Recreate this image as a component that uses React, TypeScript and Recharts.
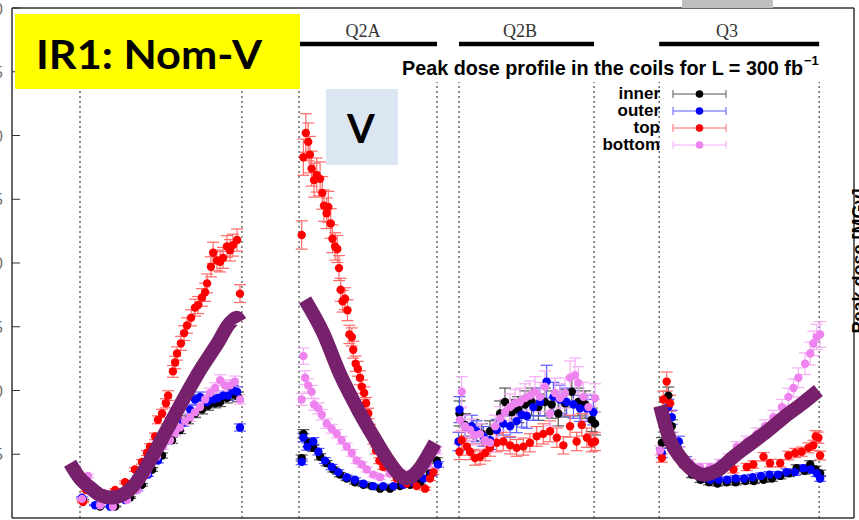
import React from "react";
import {
  ComposedChart,
  Scatter,
  Line,
  XAxis,
  YAxis,
  ErrorBar,
  ReferenceLine,
  Legend,
} from "recharts";

type Pt = [number, number];

// position along the line [m] and peak dose [MGy]
const xTicks = [20, 25, 30, 35, 40, 45, 50];
const yTicks = [0, 5, 10, 15, 20, 25, 30, 35, 40];

const magnetNames = ["Q1", "Q2A", "Q2B", "Q3"];
const magnetStart = [22.81, 31.86, 38.47, 46.74];
const magnetEnd = [29.5, 37.56, 44.05, 53.35];
const magnetRelErr = [0.04, 0.05, 0.12, 0.07];

const seriesNames = ["inner", "outer", "top", "bottom"];
const seriesColors = ["#000000", "#0000ff", "#ff0000", "#ee82ee"];
const barColors = ["#555555", "#5a5aff", "#ff6a6a", "#f4aef4"];

// Q1
const q1Inner: Pt[] = [
  [22.93, 1.4], [23.64, 0.9], [24.26, 0.9], [24.88, 1.6], [25.37, 2.6], [25.79, 3.8],
  [26.2, 4.9], [26.61, 6.1], [26.94, 6.9], [27.27, 7.7], [27.56, 8.2], [27.85, 8.5],
  [28.1, 8.8], [28.39, 9.0], [28.6, 9.1], [28.88, 9.4], [29.13, 9.7], [29.34, 9.5],
];
const q1Outer: Pt[] = [
  [22.89, 1.6], [23.43, 1.0], [24.05, 0.9], [24.67, 1.4], [25.17, 2.2], [25.62, 3.4],
  [26.03, 4.5], [26.45, 6.1], [26.74, 6.9], [27.07, 7.5], [27.36, 8.5], [27.56, 9.3],
  [27.77, 9.5], [28.06, 9.1], [28.31, 9.3], [28.51, 9.4], [28.72, 9.6], [28.93, 9.6],
  [29.13, 10.0], [29.3, 9.9], [29.42, 7.1],
];
const q1Top: Pt[] = [
  [22.93, 1.25], [23.06, 2.2], [23.43, 1.9], [23.84, 1.9], [24.26, 2.2], [24.67, 2.8],
  [25.08, 3.8], [25.37, 4.4], [25.58, 5.1], [25.7, 5.6], [25.91, 6.4], [26.03, 7.7],
  [26.2, 8.2], [26.36, 9.0], [26.45, 9.6], [26.65, 11.5], [26.74, 12.2], [26.82, 12.9],
  [26.98, 13.7], [27.11, 14.5], [27.23, 15.1], [27.4, 15.7], [27.56, 16.5], [27.69, 16.7],
  [27.85, 17.3], [27.98, 17.7], [28.06, 18.4], [28.22, 19.7], [28.31, 20.8], [28.47, 20.2],
  [28.6, 20.1], [28.72, 20.4], [28.88, 21.3], [29.01, 21.0], [29.13, 21.4], [29.3, 21.8],
  [29.42, 17.6],
];
const q1Bottom: Pt[] = [
  [22.89, 1.5], [23.14, 3.3], [23.64, 1.0], [24.17, 0.9], [24.75, 1.4], [25.17, 2.2],
  [25.58, 3.5], [25.99, 4.8], [26.24, 5.6], [26.53, 6.1], [26.74, 6.7], [26.94, 7.1],
  [27.15, 7.6], [27.36, 7.9], [27.56, 8.3], [27.77, 8.7], [27.98, 9.3], [28.18, 9.8],
  [28.39, 10.2], [28.6, 10.8], [28.8, 10.4], [29.01, 10.4], [29.21, 10.7], [29.42, 9.3],
];

// Q2A
const q2aInner: Pt[] = [
  [31.97, 4.7], [32.04, 6.6], [32.24, 5.9], [32.45, 5.5], [32.73, 4.8], [33.0, 4.3],
  [33.28, 3.8], [33.55, 3.4], [33.83, 3.1], [34.17, 2.8], [34.52, 2.6], [34.86, 2.5],
  [35.21, 2.3], [35.62, 2.3], [36.03, 2.5], [36.45, 2.6], [36.86, 2.8], [37.27, 3.5],
  [37.55, 4.5],
];
const q2aOuter: Pt[] = [
  [31.97, 4.4], [32.04, 6.3], [32.2, 5.6], [32.45, 6.0], [32.66, 5.2], [32.93, 4.5],
  [33.21, 4.0], [33.48, 3.6], [33.83, 3.2], [34.17, 3.0], [34.52, 2.7], [34.93, 2.5],
  [35.34, 2.5], [35.76, 2.5], [36.17, 2.6], [36.58, 2.8], [37.0, 3.1], [37.34, 3.5],
  [37.6, 4.2],
];
const q2aTop: Pt[] = [
  [31.97, 22.2], [32.04, 28.3], [32.14, 30.2], [32.24, 29.5], [32.31, 28.5], [32.38, 27.4],
  [32.48, 26.5], [32.59, 26.9], [32.73, 26.6], [32.82, 25.5], [32.89, 24.5], [33.0, 23.9],
  [33.07, 24.4], [33.17, 23.1], [33.24, 21.9], [33.35, 21.3], [33.44, 21.1], [33.51, 19.6],
  [33.58, 17.9], [33.66, 17.0], [33.76, 17.2], [33.86, 16.3], [33.94, 14.4], [34.04, 14.2],
  [34.1, 13.2], [34.2, 12.1], [34.29, 11.7], [34.38, 11.0], [34.45, 10.3], [34.55, 9.8],
  [34.63, 9.0], [34.72, 8.2], [34.79, 7.0], [34.93, 6.1], [35.04, 5.3], [35.18, 4.5],
  [35.34, 4.0], [35.62, 3.5], [35.9, 3.1], [36.31, 2.7], [36.72, 2.5], [37.07, 2.3],
  [37.27, 3.1], [37.41, 3.6],
];
const q2aBottom: Pt[] = [
  [31.97, 9.3], [32.04, 12.7], [32.11, 11.0], [32.24, 10.4], [32.38, 9.9], [32.48, 8.9],
  [32.66, 8.6], [32.8, 8.1], [33.0, 7.4], [33.21, 7.0], [33.42, 6.6], [33.62, 6.1],
  [33.83, 5.6], [34.04, 5.1], [34.24, 4.5], [34.45, 4.2], [34.66, 3.8], [34.93, 3.4],
  [35.21, 3.2], [35.62, 3.5], [36.03, 3.6], [36.45, 3.5], [36.86, 3.8], [37.2, 4.2],
  [37.55, 5.3],
];

// Q2B
const q2bInner: Pt[] = [
  [38.49, 8.2], [38.72, 7.3], [39.06, 6.9], [39.41, 6.6], [39.75, 6.8], [40.17, 8.2],
  [40.37, 9.1], [40.65, 8.3], [40.92, 8.5], [41.2, 8.9], [41.47, 9.1], [41.75, 8.7],
  [42.02, 9.1], [42.3, 8.9], [42.57, 8.2], [42.85, 9.0], [43.13, 9.9], [43.4, 9.1],
  [43.68, 8.9], [43.95, 7.7], [44.09, 7.4],
];
const q2bOuter: Pt[] = [
  [38.45, 6.0], [38.49, 8.5], [38.72, 7.2], [39.0, 7.2], [39.2, 6.8], [39.48, 6.4],
  [39.75, 6.1], [40.03, 6.9], [40.3, 7.4], [40.58, 7.2], [40.85, 7.6], [41.06, 8.1],
  [41.27, 8.0], [41.54, 8.7], [41.82, 9.1], [42.09, 10.7], [42.37, 9.5], [42.64, 9.3],
  [42.92, 9.1], [43.2, 8.9], [43.47, 8.6], [43.75, 8.6], [44.02, 8.3],
];
const q2bTop: Pt[] = [
  [38.49, 5.2], [38.58, 6.1], [38.79, 5.6], [38.93, 5.2], [39.13, 4.7], [39.34, 4.8],
  [39.55, 5.1], [39.75, 5.5], [40.03, 5.9], [40.3, 6.0], [40.58, 5.7], [40.85, 5.5],
  [41.13, 5.6], [41.4, 5.9], [41.68, 6.4], [41.95, 6.6], [42.23, 6.8], [42.51, 6.3],
  [42.78, 5.7], [43.06, 7.2], [43.33, 6.0], [43.54, 7.3], [43.75, 6.3], [43.95, 5.9],
  [44.09, 6.0],
];
const q2bBottom: Pt[] = [
  [38.51, 7.7], [38.58, 9.9], [38.72, 7.2], [38.93, 6.9], [39.13, 6.5], [39.34, 6.6],
  [39.55, 6.1], [39.75, 5.9], [39.96, 7.2], [40.17, 7.8], [40.37, 8.3], [40.58, 8.7],
  [40.79, 9.0], [40.99, 9.1], [41.2, 9.4], [41.4, 9.6], [41.61, 9.9], [41.82, 9.5],
  [42.02, 10.3], [42.23, 8.2], [42.44, 9.8], [42.64, 9.4], [42.85, 9.8], [43.06, 11.0],
  [43.26, 11.2], [43.4, 10.6], [43.61, 9.5], [43.82, 8.7], [44.09, 9.4],
];

// Q3
const q3Inner: Pt[] = [
  [46.85, 5.9], [47.12, 9.6], [47.26, 7.2], [47.5, 5.5], [47.8, 4.3], [48.1, 3.4],
  [48.45, 3.0], [48.8, 2.8], [49.15, 2.7], [49.53, 2.8], [49.9, 2.8], [50.3, 2.9],
  [50.65, 2.9], [51.05, 3.0], [51.4, 3.1], [51.75, 3.3], [52.1, 3.5], [52.42, 3.9],
  [52.75, 3.7], [52.98, 4.2], [53.2, 3.8], [53.39, 3.5],
];
const q3Outer: Pt[] = [
  [46.85, 5.1], [47.12, 8.7], [47.26, 7.9], [47.55, 6.0], [47.85, 4.5], [48.16, 3.5],
  [48.5, 3.2], [48.85, 3.0], [49.2, 3.0], [49.55, 3.0], [49.9, 3.1], [50.25, 3.1],
  [50.6, 3.2], [50.95, 3.3], [51.3, 3.4], [51.65, 3.4], [52.0, 3.6], [52.35, 3.6],
  [52.7, 3.9], [53.0, 3.8], [53.25, 3.5], [53.39, 3.1],
];
const q3Top: Pt[] = [
  [46.85, 4.7], [46.91, 9.3], [47.05, 10.7], [47.19, 9.0], [47.74, 4.5], [48.43, 3.6],
  [49.12, 3.6], [49.81, 3.8], [50.36, 4.0], [50.63, 4.2], [51.05, 4.8], [51.32, 4.3],
  [51.74, 4.3], [52.08, 4.9], [52.36, 5.1], [52.63, 5.2], [52.91, 5.5], [53.11, 5.7],
  [53.21, 6.4], [53.32, 6.3], [53.39, 4.9],
];
const q3Bottom: Pt[] = [
  [46.78, 5.3], [47.31, 6.3], [47.6, 5.2], [48.02, 4.3], [48.43, 4.0], [48.84, 4.0],
  [49.26, 4.3], [49.6, 4.7], [49.95, 5.6], [50.36, 6.0], [50.77, 6.6], [51.12, 7.2],
  [51.46, 7.9], [51.81, 8.7], [52.08, 9.5], [52.29, 10.2], [52.49, 11.0], [52.77, 12.1],
  [52.98, 12.9], [53.11, 13.7], [53.25, 14.2], [53.39, 14.4],
];

// hand-drawn trend curves
const q1Curve: Pt[] = [
  [22.4, 4.3], [22.81, 3.1], [23.22, 2.4], [23.64, 1.8], [24.12, 1.6], [24.55, 1.8],
  [25.01, 2.5], [25.7, 4.5], [26.39, 6.9], [27.08, 9.3], [27.77, 11.6], [28.46, 13.6],
  [29.01, 15.3], [29.29, 15.7], [29.42, 15.4],
];
const q2aCurve: Pt[] = [
  [32.11, 17.1], [32.86, 14.5], [33.55, 11.3], [34.24, 8.7], [34.93, 6.4], [35.62, 4.3],
  [35.95, 3.5], [36.24, 3.1], [36.55, 3.3], [36.85, 3.9], [37.15, 4.8], [37.48, 5.9],
];
const q3Curve: Pt[] = [
  [46.78, 8.8], [47.19, 6.1], [47.6, 4.8], [48.02, 3.9], [48.6, 3.4], [49.2, 3.8],
  [49.81, 4.8], [50.5, 5.8], [51.2, 6.8], [51.9, 7.9], [52.6, 8.9], [53.32, 10.0],
];

const withErr = (groups: Pt[][]) =>
  groups.flatMap((g, m) =>
    g.map(([x, y]) => ({ x, y, e: +(y * magnetRelErr[m]).toFixed(2) }))
  );
const toRows = (pts: Pt[]) => pts.map(([x, y]) => ({ x, y }));

const seriesData = [
  withErr([q1Inner, q2aInner, q2bInner, q3Inner]),
  withErr([q1Outer, q2aOuter, q2bOuter, q3Outer]),
  withErr([q1Top, q2aTop, q2bTop, q3Top]),
  withErr([q1Bottom, q2aBottom, q2bBottom, q3Bottom]),
];
const curves = [q1Curve, q2aCurve, q3Curve];

const X_DOMAIN: [number, number] = [20, 54.79];
const DOTTED_TOP = 34.2;
const BAR_Y = 37.18;
const frame = { stroke: "#333", strokeWidth: 1.5 };
const SANS = "'Liberation Sans', Arial, sans-serif";
const SERIF = "'Liberation Serif', 'Times New Roman', serif";

const renderLegend = () => (
  <svg width={200} height={75}>
    {seriesNames.map((name, i) => {
      const base = 15 + i * 17;
      const cy = base - 5;
      return (
        <g key={name}>
          <text
            x={100}
            y={base}
            textAnchor="end"
            fontFamily={SANS}
            fontWeight={700}
            fontSize={17}
            fill="#000"
          >
            {name}
          </text>
          <line x1={113} x2={166} y1={cy} y2={cy} stroke={barColors[i]} />
          <line x1={113} x2={113} y1={cy - 4} y2={cy + 4} stroke={barColors[i]} />
          <line x1={166} x2={166} y1={cy - 4} y2={cy + 4} stroke={barColors[i]} />
          <circle cx={139.5} cy={cy} r={3.8} fill={seriesColors[i]} />
        </g>
      );
    })}
  </svg>
);

export default function App() {
  return (
    <div
      style={{
        position: "absolute",
        left: 0,
        top: 0,
        width: 859,
        height: 520,
        overflow: "hidden",
        background: "#fff",
      }}
    >
      <ComposedChart
        width={859}
        height={520}
        margin={{ top: 8, right: 5, bottom: 2, left: 12 }}
      >
        <XAxis
          xAxisId="b"
          dataKey="x"
          type="number"
          domain={X_DOMAIN}
          ticks={xTicks}
          orientation="bottom"
          mirror
          height={1}
          tick={false}
          tickSize={7}
          axisLine={frame}
          tickLine={{ stroke: "#333" }}
        />
        <XAxis
          xAxisId="t"
          dataKey="x"
          type="number"
          domain={X_DOMAIN}
          ticks={xTicks}
          orientation="top"
          mirror
          height={1}
          tick={false}
          tickSize={7}
          axisLine={frame}
          tickLine={{ stroke: "#333" }}
        />
        <YAxis
          yAxisId="l"
          type="number"
          domain={[0, 40]}
          ticks={yTicks}
          orientation="left"
          mirror
          width={1}
          tickSize={8}
          axisLine={frame}
          tickLine={{ stroke: "#333" }}
          tick={(p: any) => (
            <text
              x={3}
              y={p.y + 6}
              textAnchor="end"
              fontFamily={SANS}
              fontSize={17}
              fill="#777"
            >
              {p.payload.value}
            </text>
          )}
        />
        <YAxis
          yAxisId="r"
          type="number"
          domain={[0, 40]}
          ticks={yTicks}
          orientation="right"
          mirror
          width={1}
          tick={false}
          tickSize={7}
          axisLine={frame}
          tickLine={{ stroke: "#333" }}
        />

        {[...magnetStart, ...magnetEnd].map((xv) => (
          <ReferenceLine
            key={`d${xv}`}
            xAxisId="b"
            yAxisId="l"
            segment={[
              { x: xv, y: 0 },
              { x: xv, y: DOTTED_TOP },
            ]}
            stroke="#444"
            strokeWidth={1.2}
            strokeDasharray="2 3"
          />
        ))}
        {magnetNames.map((n, i) => (
          <ReferenceLine
            key={n}
            xAxisId="b"
            yAxisId="l"
            segment={[
              { x: magnetStart[i], y: BAR_Y },
              { x: magnetEnd[i], y: BAR_Y },
            ]}
            stroke="#000"
            strokeWidth={4.5}
          />
        ))}

        {seriesData.map((d, i) => (
          <Scatter
            key={seriesNames[i]}
            name={seriesNames[i]}
            data={d}
            dataKey="y"
            xAxisId="b"
            yAxisId="l"
            fill={seriesColors[i]}
            isAnimationActive={false}
            shape={(p: any) => (
              <circle cx={p.cx} cy={p.cy} r={4.2} fill={seriesColors[i]} />
            )}
          >
            <ErrorBar
              dataKey="e"
              direction="y"
              width={6}
              stroke={barColors[i]}
              strokeWidth={1.2}
              isAnimationActive={false}
            />
          </Scatter>
        ))}

        {curves.map((c, i) => (
          <Line
            key={`c${i}`}
            data={toRows(c)}
            dataKey="y"
            xAxisId="b"
            yAxisId="l"
            type="monotone"
            stroke="#77206b"
            strokeWidth={14}
            dot={false}
            activeDot={false}
            isAnimationActive={false}
            zIndex={700}
          />
        ))}

        <Legend
          layout="vertical"
          align="center"
          verticalAlign="middle"
          content={renderLegend}
          wrapperStyle={{ left: 560, top: 84, width: 200, height: 75 }}
        />
      </ComposedChart>

      <svg
        width={859}
        height={520}
        style={{ position: "absolute", left: 0, top: 0, pointerEvents: "none" }}
      >
        <rect x={682} y={0} width={91} height={8} fill="#bfbfbf" />
        <text x={363} y={37} textAnchor="middle" fontFamily={SERIF} fontSize={18} fill="#333">
          Q2A
        </text>
        <text x={520} y={37} textAnchor="middle" fontFamily={SERIF} fontSize={18} fill="#333">
          Q2B
        </text>
        <text x={727} y={37} textAnchor="middle" fontFamily={SERIF} fontSize={18} fill="#333">
          Q3
        </text>
        <text
          x={402}
          y={75}
          fontFamily={SANS}
          fontWeight={700}
          fontSize={19.5}
          fill="#000"
          textLength={401}
          lengthAdjust="spacingAndGlyphs"
        >
          Peak dose profile in the coils for L = 300 fb
        </text>
        <text x={804} y={65} fontFamily={SANS} fontWeight={700} fontSize={13} fill="#000">
          −1
        </text>
        <text
          x={865}
          y={261}
          textAnchor="middle"
          fontFamily={SANS}
          fontWeight={700}
          fontSize={18}
          fill="#000"
          transform="rotate(-90 865 261)"
        >
          Peak dose [MGy]
        </text>
        <rect x={15} y={14} width={285} height={75} fill="#ffff00" />
        <text
          x={36}
          y={69}
          fontFamily="Lato, 'Open Sans', sans-serif"
          fontWeight={700}
          fontSize={40}
          fill="#000"
          textLength={226}
          lengthAdjust="spacingAndGlyphs"
        >
          IR1: Nom-V
        </text>
        <rect x={326} y={89} width={72} height={76} fill="#dce6f2" />
        <text
          x={361}
          y={143}
          textAnchor="middle"
          fontFamily="Lato, 'Open Sans', sans-serif"
          fontWeight={700}
          fontSize={40}
          fill="#000"
        >
          V
        </text>
      </svg>
    </div>
  );
}
